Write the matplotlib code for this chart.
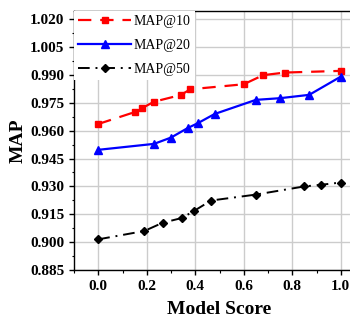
import matplotlib
matplotlib.use("Agg")
import matplotlib.pyplot as plt
from matplotlib.ticker import MultipleLocator

x10 = [0.0, 0.15, 0.18, 0.23, 0.34, 0.38, 0.60, 0.68, 0.77, 1.0]
y10 = [0.9636, 0.9700, 0.9721, 0.9756, 0.9792, 0.9823, 0.9850, 0.9899, 0.9913, 0.9922]

x20 = [0.0, 0.23, 0.30, 0.37, 0.41, 0.48, 0.65, 0.75, 0.87, 1.0]
y20 = [0.9497, 0.9529, 0.9563, 0.9615, 0.9640, 0.9690, 0.9766, 0.9775, 0.9793, 0.9891]

x50 = [0.0, 0.19, 0.265, 0.345, 0.395, 0.465, 0.65, 0.85, 0.92, 1.0]
y50 = [0.9015, 0.9060, 0.9104, 0.9130, 0.9168, 0.9224, 0.9256, 0.9300, 0.9309, 0.9321]

labels = ["MAP@10", "MAP@20", "MAP@50"]
xticks = [0.0, 0.2, 0.4, 0.6, 0.8, 1.0]
yticks = [0.885, 0.900, 0.915, 0.930, 0.945, 0.960, 0.975, 0.990, 1.005, 1.020]

plt.rcParams['font.family'] = ['Liberation Serif', 'DejaVu Serif']
plt.rcParams['font.weight'] = 'bold'

fig = plt.figure(figsize=(3.5, 3.2), dpi=100)
ax = fig.add_axes([74/350, 50/320, 291/350, (320-10.7-50)/320])

ax.plot(x10, y10, color='#ff0000', linestyle=(0, (6, 4)), linewidth=1.6,
        marker='s', markersize=4.5, label=labels[0], zorder=3)
ax.plot(x20, y20, color='#0000ff', linestyle='-', linewidth=1.6,
        marker='^', markersize=5.5, label=labels[1], zorder=3)
ax.plot(x50, y50, color='black', linestyle=(0, (6, 3, 1, 3)), linewidth=1.4,
        marker='D', markersize=4.5, label=labels[2], zorder=3)

ax.set_xlim(-0.1, 1.1)
ax.set_ylim(0.885, 1.0246)
ax.set_xticks(xticks)
ax.set_yticks(yticks)
ax.set_xticklabels([f"{v:.1f}" for v in xticks])
ax.set_yticklabels([f"{v:.3f}" for v in yticks])
ax.xaxis.set_minor_locator(MultipleLocator(0.1))
ax.yaxis.set_minor_locator(MultipleLocator(0.0075))
ax.tick_params(axis='both', which='major', labelsize=11, length=3.5, width=1, direction='out')
ax.tick_params(axis='both', which='minor', length=1.8, width=0.8, direction='out')
for lab in ax.get_xticklabels() + ax.get_yticklabels():
    lab.set_fontweight('bold')

ax.grid(True, which='major', color='#cccccc', linewidth=1.0, zorder=0)
ax.set_axisbelow(True)
for s in ax.spines.values():
    s.set_linewidth(1.0)

ax.set_xlabel("Model Score", fontsize=14, fontweight='bold', labelpad=6)
ax.set_ylabel("MAP", fontsize=14, fontweight='bold', labelpad=2)

leg = ax.legend(loc='upper left', fontsize=10, frameon=True, framealpha=1,
                facecolor='white', edgecolor='none', fancybox=False,
                handlelength=3.8, handletextpad=0.2, borderaxespad=0.0,
                borderpad=0.3, labelspacing=0.8)
for t in leg.get_texts():
    t.set_fontweight('normal')

fig.savefig("out.png", dpi=100)
